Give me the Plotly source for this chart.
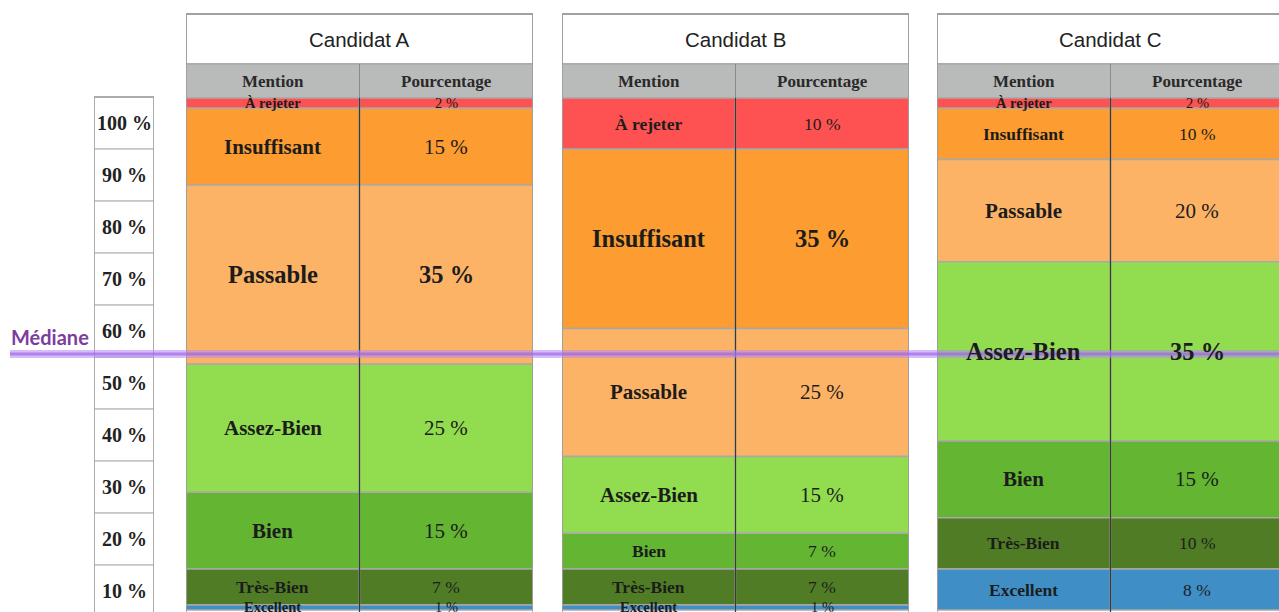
import plotly.graph_objects as go

# ---------------- data ----------------
candidates = ["Candidat A", "Candidat B", "Candidat C"]
mentions = ["À rejeter", "Insuffisant", "Passable", "Assez-Bien", "Bien", "Très-Bien", "Excellent"]
values_A = [2, 15, 35, 25, 15, 7, 1]
values_B = [10, 35, 25, 15, 7, 7, 1]
values_C = [2, 10, 20, 35, 15, 10, 8]
scale_labels = ["100 %", "90 %", "80 %", "70 %", "60 %", "50 %", "40 %", "30 %", "20 %", "10 %"]
scale_values = [100, 90, 80, 70, 60, 50, 40, 30, 20, 10]
median_value = 50
column_headers = ["Mention", "Pourcentage"]

# ---------------- style ----------------
colors = ["#fd5152", "#fd9c30", "#fdb366", "#92dc50", "#63b532", "#4f7c24", "#3f8fc6"]
W, H = 1279, 612
PANEL_W = 347
panel_left_px = [186, 562, 937]
scale_px = (94, 154)
SERIF = "Liberation Serif, Times New Roman, serif"
SANS = "Liberation Sans, Arial, sans-serif"
TXT = "#1c1c1c"


def cell_font_size(v):
    if v < 5:
        return 14.5
    if v < 12:
        return 17.5
    if v < 30:
        return 21
    return 24.5


# main y mapping: 100 % at px 98, 5.12 px per %
PX_PER = 5.12
TOP_PX = 98
y_top = 100 + TOP_PX / PX_PER
y_bot = 100 - (H - TOP_PX) / PX_PER
title_top = 100 + (TOP_PX - 14) / PX_PER
header_top = 100 + (TOP_PX - 64) / PX_PER
# scale column mapping: cells 52 px, top at px 97
SPX = 5.2
s_top = 100 + 97 / SPX
s_bot = 100 - (H - 97) / SPX

fig = go.Figure()
shapes = []
annotations = []

all_values = [values_A, values_B, values_C]
for k, (name, vals) in enumerate(zip(candidates, all_values)):
    xa = "x" + str(k + 2)
    tops = []
    t = 100
    for v in vals:
        tops.append(t)
        t -= v
    for i, (m, v) in enumerate(zip(mentions, vals)):
        base = tops[i] - v
        fig.add_trace(go.Bar(
            x=[0.5, 1.5], y=[v, v], base=[base, base], width=1,
            marker=dict(color=colors[i], line=dict(color="#a9a9a9", width=1.5)),
            xaxis=xa, yaxis="y", showlegend=False, hoverinfo="skip"))
        fs = cell_font_size(v)
        annotations.append(dict(
            x=0.5, y=base + v / 2, xref=xa, yref="y", text="<b>" + m + "</b>",
            showarrow=False, font=dict(family=SERIF, size=fs, color=TXT)))
        pct = f"{v} %"
        if v >= 35:
            pct = "<b>" + pct + "</b>"
        annotations.append(dict(
            x=1.5, y=base + v / 2, xref=xa, yref="y", text=pct,
            showarrow=False, font=dict(family=SERIF, size=fs, color=TXT)))
    # header rows
    shapes.append(dict(type="rect", xref=xa, yref="y", x0=0, x1=2, y0=header_top, y1=title_top,
                       fillcolor="white", line=dict(color="#a0a0a0", width=1.5), layer="below"))
    shapes.append(dict(type="rect", xref=xa, yref="y", x0=0, x1=2, y0=100, y1=header_top,
                       fillcolor="#b9baba", line=dict(color="#a0a0a0", width=1), layer="below"))
    shapes.append(dict(type="line", xref=xa, yref="y", x0=1, x1=1, y0=100, y1=header_top,
                       line=dict(color="#8a8a8a", width=1)))
    shapes.append(dict(type="line", xref=xa, yref="y", x0=1, x1=1, y0=y_bot - 2, y1=100,
                       line=dict(color="#3a3a3a", width=1.2)))
    shapes.append(dict(type="rect", xref=xa, yref="y", x0=0, x1=2, y0=y_bot - 5, y1=title_top,
                       line=dict(color="#9a9a9a", width=1.5)))
    annotations.append(dict(x=1, y=(header_top + title_top) / 2, xref=xa, yref="y", text=name,
                            showarrow=False, font=dict(family=SANS, size=20.5, color="#222")))
    for j, hdr in enumerate(column_headers):
        annotations.append(dict(x=0.5 + j, y=(100 + header_top) / 2, xref=xa, yref="y",
                                text="<b>" + hdr + "</b>", showarrow=False,
                                font=dict(family=SERIF, size=17, color="#2a2a2a")))

# scale column
fig.add_trace(go.Bar(
    x=[0.5] * len(scale_values), y=[10] * len(scale_values),
    base=[v - 10 for v in scale_values], width=1,
    marker=dict(color="white", line=dict(color="#c4c4c4", width=1.5)),
    xaxis="x", yaxis="y2", showlegend=False, hoverinfo="skip"))
for lab, v in zip(scale_labels, scale_values):
    annotations.append(dict(x=0.5, y=v - 5, xref="x", yref="y2", text="<b>" + lab + "</b>",
                            showarrow=False, font=dict(family=SERIF, size=20, color="#222")))
shapes.append(dict(type="rect", xref="x", yref="y2", x0=0, x1=1, y0=s_bot - 5, y1=100,
                   line=dict(color="#a0a0a0", width=1.5)))

# median line
shapes.append(dict(type="line", xref="paper", yref="y", x0=10 / W, x1=1, y0=median_value, y1=median_value,
                   line=dict(color="rgba(180,135,245,0.55)", width=8)))
shapes.append(dict(type="line", xref="paper", yref="y", x0=10 / W, x1=1, y0=median_value, y1=median_value,
                   line=dict(color="rgba(155,100,228,0.65)", width=3)))
annotations.append(dict(x=50 / W, y=median_value, xref="paper", yref="y", yshift=17,
                        xanchor="center", yanchor="middle",
                        text="<b>Médiane</b>", showarrow=False,
                        font=dict(family="Lato, Open Sans, sans-serif", size=20, color="#7c3e9e")))

layout = dict(
    width=W, height=H, margin=dict(l=0, r=0, t=0, b=0),
    paper_bgcolor="white", plot_bgcolor="rgba(0,0,0,0)",
    barmode="overlay", showlegend=False,
    shapes=shapes, annotations=annotations,
    xaxis=dict(domain=[scale_px[0] / W, scale_px[1] / W], range=[0, 1], anchor="y2", visible=False, fixedrange=True),
    yaxis=dict(domain=[0, 1], range=[y_bot, y_top], anchor="x2", visible=False, fixedrange=True),
    yaxis2=dict(domain=[0, 1], range=[s_bot, s_top], anchor="x", visible=False, fixedrange=True),
)
for k, a in enumerate(panel_left_px):
    b = min(a + PANEL_W, W)
    xmax = 2 * (b - a) / PANEL_W
    layout["xaxis" + str(k + 2)] = dict(domain=[a / W, b / W], range=[0, xmax], anchor="y",
                                        visible=False, fixedrange=True)
fig.update_layout(**layout)

fig.write_html("out.html", config={"displayModeBar": False},
               post_script="document.body.style.margin='0';document.body.style.overflow='hidden';")
